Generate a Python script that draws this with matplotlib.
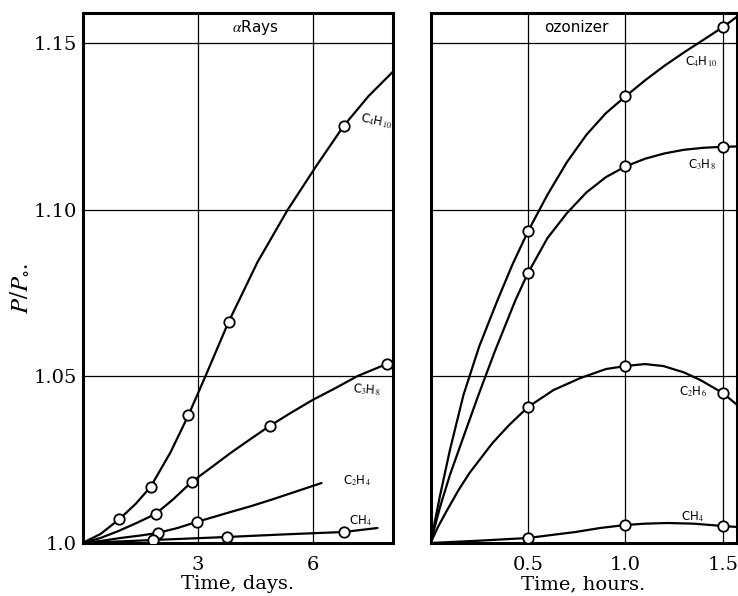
import numpy as np
import matplotlib
matplotlib.use("Agg")
import matplotlib.pyplot as plt

plt.rcParams['mathtext.fontset'] = 'stix'

# ---- alpha rays panel (time in days) ----
# curves
a_c4h10_x = [0, 0.47, 0.965, 1.383, 1.774, 2.296, 2.765, 3.209, 3.809, 4.566, 5.348, 6.079, 6.809, 7.461, 8.113]
a_c4h10_y = [1.0, 1.0027, 1.0072, 1.0117, 1.0168, 1.0272, 1.0384, 1.0501, 1.0663, 1.0843, 1.0999, 1.1128, 1.1251, 1.1341, 1.1416]
a_c3h8_x = [0, 0.47, 0.939, 1.409, 1.905, 2.374, 2.844, 3.339, 3.861, 4.383, 4.879, 5.427, 6.0, 6.601, 7.175, 7.931]
a_c3h8_y = [1.0, 1.0015, 1.0036, 1.006, 1.0087, 1.0132, 1.0183, 1.0225, 1.027, 1.0312, 1.0351, 1.039, 1.0429, 1.0465, 1.0501, 1.0537]
a_c2h4_x = [0, 0.47, 0.991, 1.513, 1.957, 2.478, 2.974, 3.418, 3.861, 4.409, 4.983, 5.609, 6.235]
a_c2h4_y = [1.0, 1.0006, 1.0015, 1.00225, 1.003, 1.0045, 1.0063, 1.0078, 1.0093, 1.0111, 1.0132, 1.0156, 1.018]
a_ch4_x = [0, 1.852, 3.757, 5.3, 6.809, 7.696]
a_ch4_y = [1.0, 1.0009, 1.0018, 1.0026, 1.0033, 1.0045]
# measured points
a_pts = {
    'C4H10': ([0.965, 1.774, 2.765, 3.809, 6.809], [1.0072, 1.0168, 1.0384, 1.0663, 1.1251]),
    'C3H8': ([1.905, 2.844, 4.879, 7.931], [1.0087, 1.0183, 1.0351, 1.0537]),
    'C2H4': ([1.957, 2.974], [1.003, 1.0063]),
    'CH4': ([1.852, 3.757, 6.809], [1.0009, 1.0018, 1.0033]),
}

# ---- ozonizer panel (time in hours) ----
o_c4h10_x = [0, 0.05, 0.1, 0.169, 0.25, 0.344, 0.42, 0.5, 0.6, 0.7, 0.8, 0.9, 1.0, 1.1, 1.2, 1.3, 1.4, 1.5, 1.574]
o_c4h10_y = [1.0, 1.0145, 1.028, 1.0444, 1.059, 1.0729, 1.0835, 1.0935, 1.1045, 1.1143, 1.1225, 1.129, 1.134,
             1.1388, 1.1432, 1.1472, 1.151, 1.1548, 1.158]
o_c3h8_x = [0, 0.05, 0.1, 0.17, 0.246, 0.33, 0.436, 0.5, 0.6, 0.7, 0.8, 0.9, 1.0, 1.1, 1.2, 1.3, 1.4, 1.5, 1.574]
o_c3h8_y = [1.0, 1.011, 1.0205, 1.032, 1.0444, 1.0575, 1.0729, 1.081, 1.0915, 1.099, 1.1052, 1.1098, 1.113,
            1.1153, 1.1169, 1.118, 1.1186, 1.1189, 1.119]
o_c2h6_x = [0, 0.04, 0.077, 0.144, 0.2, 0.318, 0.4, 0.5, 0.631, 0.769, 0.9, 1.0, 1.1, 1.195, 1.3, 1.385, 1.5, 1.574]
o_c2h6_y = [1.0, 1.005, 1.009, 1.0159, 1.021, 1.030, 1.0352, 1.0408, 1.0459, 1.0495, 1.0522, 1.0531, 1.0537,
            1.0531, 1.0512, 1.0489, 1.045, 1.0414]
o_ch4_x = [0, 0.25, 0.5, 0.62, 0.744, 0.87, 1.0, 1.1, 1.215, 1.35, 1.5, 1.574]
o_ch4_y = [1.0, 1.0007, 1.0015, 1.0024, 1.0033, 1.0045, 1.0054, 1.0058, 1.006, 1.0058, 1.0051, 1.0048]
o_pts = {
    'C4H10': ([0.5, 1.0, 1.5], [1.0935, 1.134, 1.1548]),
    'C3H8': ([0.5, 1.0, 1.5], [1.081, 1.113, 1.1189]),
    'C2H6': ([0.5, 1.0, 1.5], [1.0408, 1.0531, 1.045]),
    'CH4': ([0.5, 1.0, 1.5], [1.0015, 1.0054, 1.0051]),
}

a_labels = [('C$_4$H$_{10}$', 7.65, 1.1265, -12), ('C$_3$H$_8$', 7.4, 1.0459, -5),
            ('C$_2$H$_4$', 7.15, 1.0186, 0), ('CH$_4$', 7.25, 1.0066, 0)]
o_labels = [('C$_4$H$_{10}$', 1.39, 1.1443, 0), ('C$_3$H$_8$', 1.39, 1.1134, 0),
            ('C$_2$H$_6$', 1.345, 1.0453, 0), ('CH$_4$', 1.345, 1.0078, 0)]

y_ticks = [1.0, 1.05, 1.10, 1.15]
y_ticklabels = ['1.0', '1.05', '1.10', '1.15']

W, H = 738, 596
fig = plt.figure(figsize=(W / 100, H / 100), dpi=100)
bottom = 53 / H
height = 530.5 / H
ax1 = fig.add_axes([82.5 / W, bottom, 310.5 / W, height])
ax2 = fig.add_axes([430.5 / W, bottom, 306 / W, height])

serif = 'DejaVu Serif'


def style(ax, xticks, xlabels, xlim, title, tx, show_y):
    ax.set_xlim(*xlim)
    ax.set_ylim(1.0, 1.1592)
    ax.set_xticks(xticks)
    ax.set_xticklabels(xlabels, fontfamily=serif, fontsize=14)
    ax.set_yticks(y_ticks)
    if show_y:
        ax.set_yticklabels(y_ticklabels, fontfamily=serif, fontsize=14)
    else:
        ax.set_yticklabels([])
    ax.tick_params(length=0, pad=4)
    ax.tick_params(axis='x', pad=9)
    ax.grid(True, color='black', linewidth=0.9)
    for s in ax.spines.values():
        s.set_linewidth(2.2)
    ax.text(tx, 1.1547, title, ha='center', va='center', fontsize=11,
            fontfamily='DejaVu Sans')


def draw(ax, curves, pts, labels):
    for cx, cy in curves:
        ax.plot(cx, cy, color='black', linewidth=1.6, solid_capstyle='round',
                solid_joinstyle='round', zorder=3)
    for px, py in pts.values():
        ax.plot(px, py, 'o', markersize=7.5, markerfacecolor='white',
                markeredgecolor='black', markeredgewidth=1.3, zorder=4)
    for txt, x, y, rot in labels:
        ax.text(x, y, txt, ha='center', va='center', fontsize=8.5, rotation=rot,
                fontfamily='DejaVu Sans', zorder=5)


draw(ax1, [(a_c4h10_x, a_c4h10_y), (a_c3h8_x, a_c3h8_y), (a_c2h4_x, a_c2h4_y),
           (a_ch4_x, a_ch4_y)], a_pts, a_labels)
draw(ax2, [(o_c4h10_x, o_c4h10_y), (o_c3h8_x, o_c3h8_y), (o_c2h6_x, o_c2h6_y),
           (o_ch4_x, o_ch4_y)], o_pts, o_labels)

style(ax1, [3, 6], ['3', '6'], (0, 8.1), r'$\alpha$Rays', 4.5, True)
style(ax2, [0.5, 1.0, 1.5], ['0.5', '1.0', '1.5'], (0, 1.57), 'ozonizer', 0.75, False)

ax1.set_xlabel('Time, days.', fontfamily=serif, fontsize=14, labelpad=1)
ax2.set_xlabel('Time, hours.', fontfamily=serif, fontsize=14, labelpad=1)
fig.text(20 / W, 1 - 288 / H, r'$P/P_{\circ}.$', rotation=90, ha='center', va='center',
         fontsize=18)

fig.savefig('out.png', dpi=100)
